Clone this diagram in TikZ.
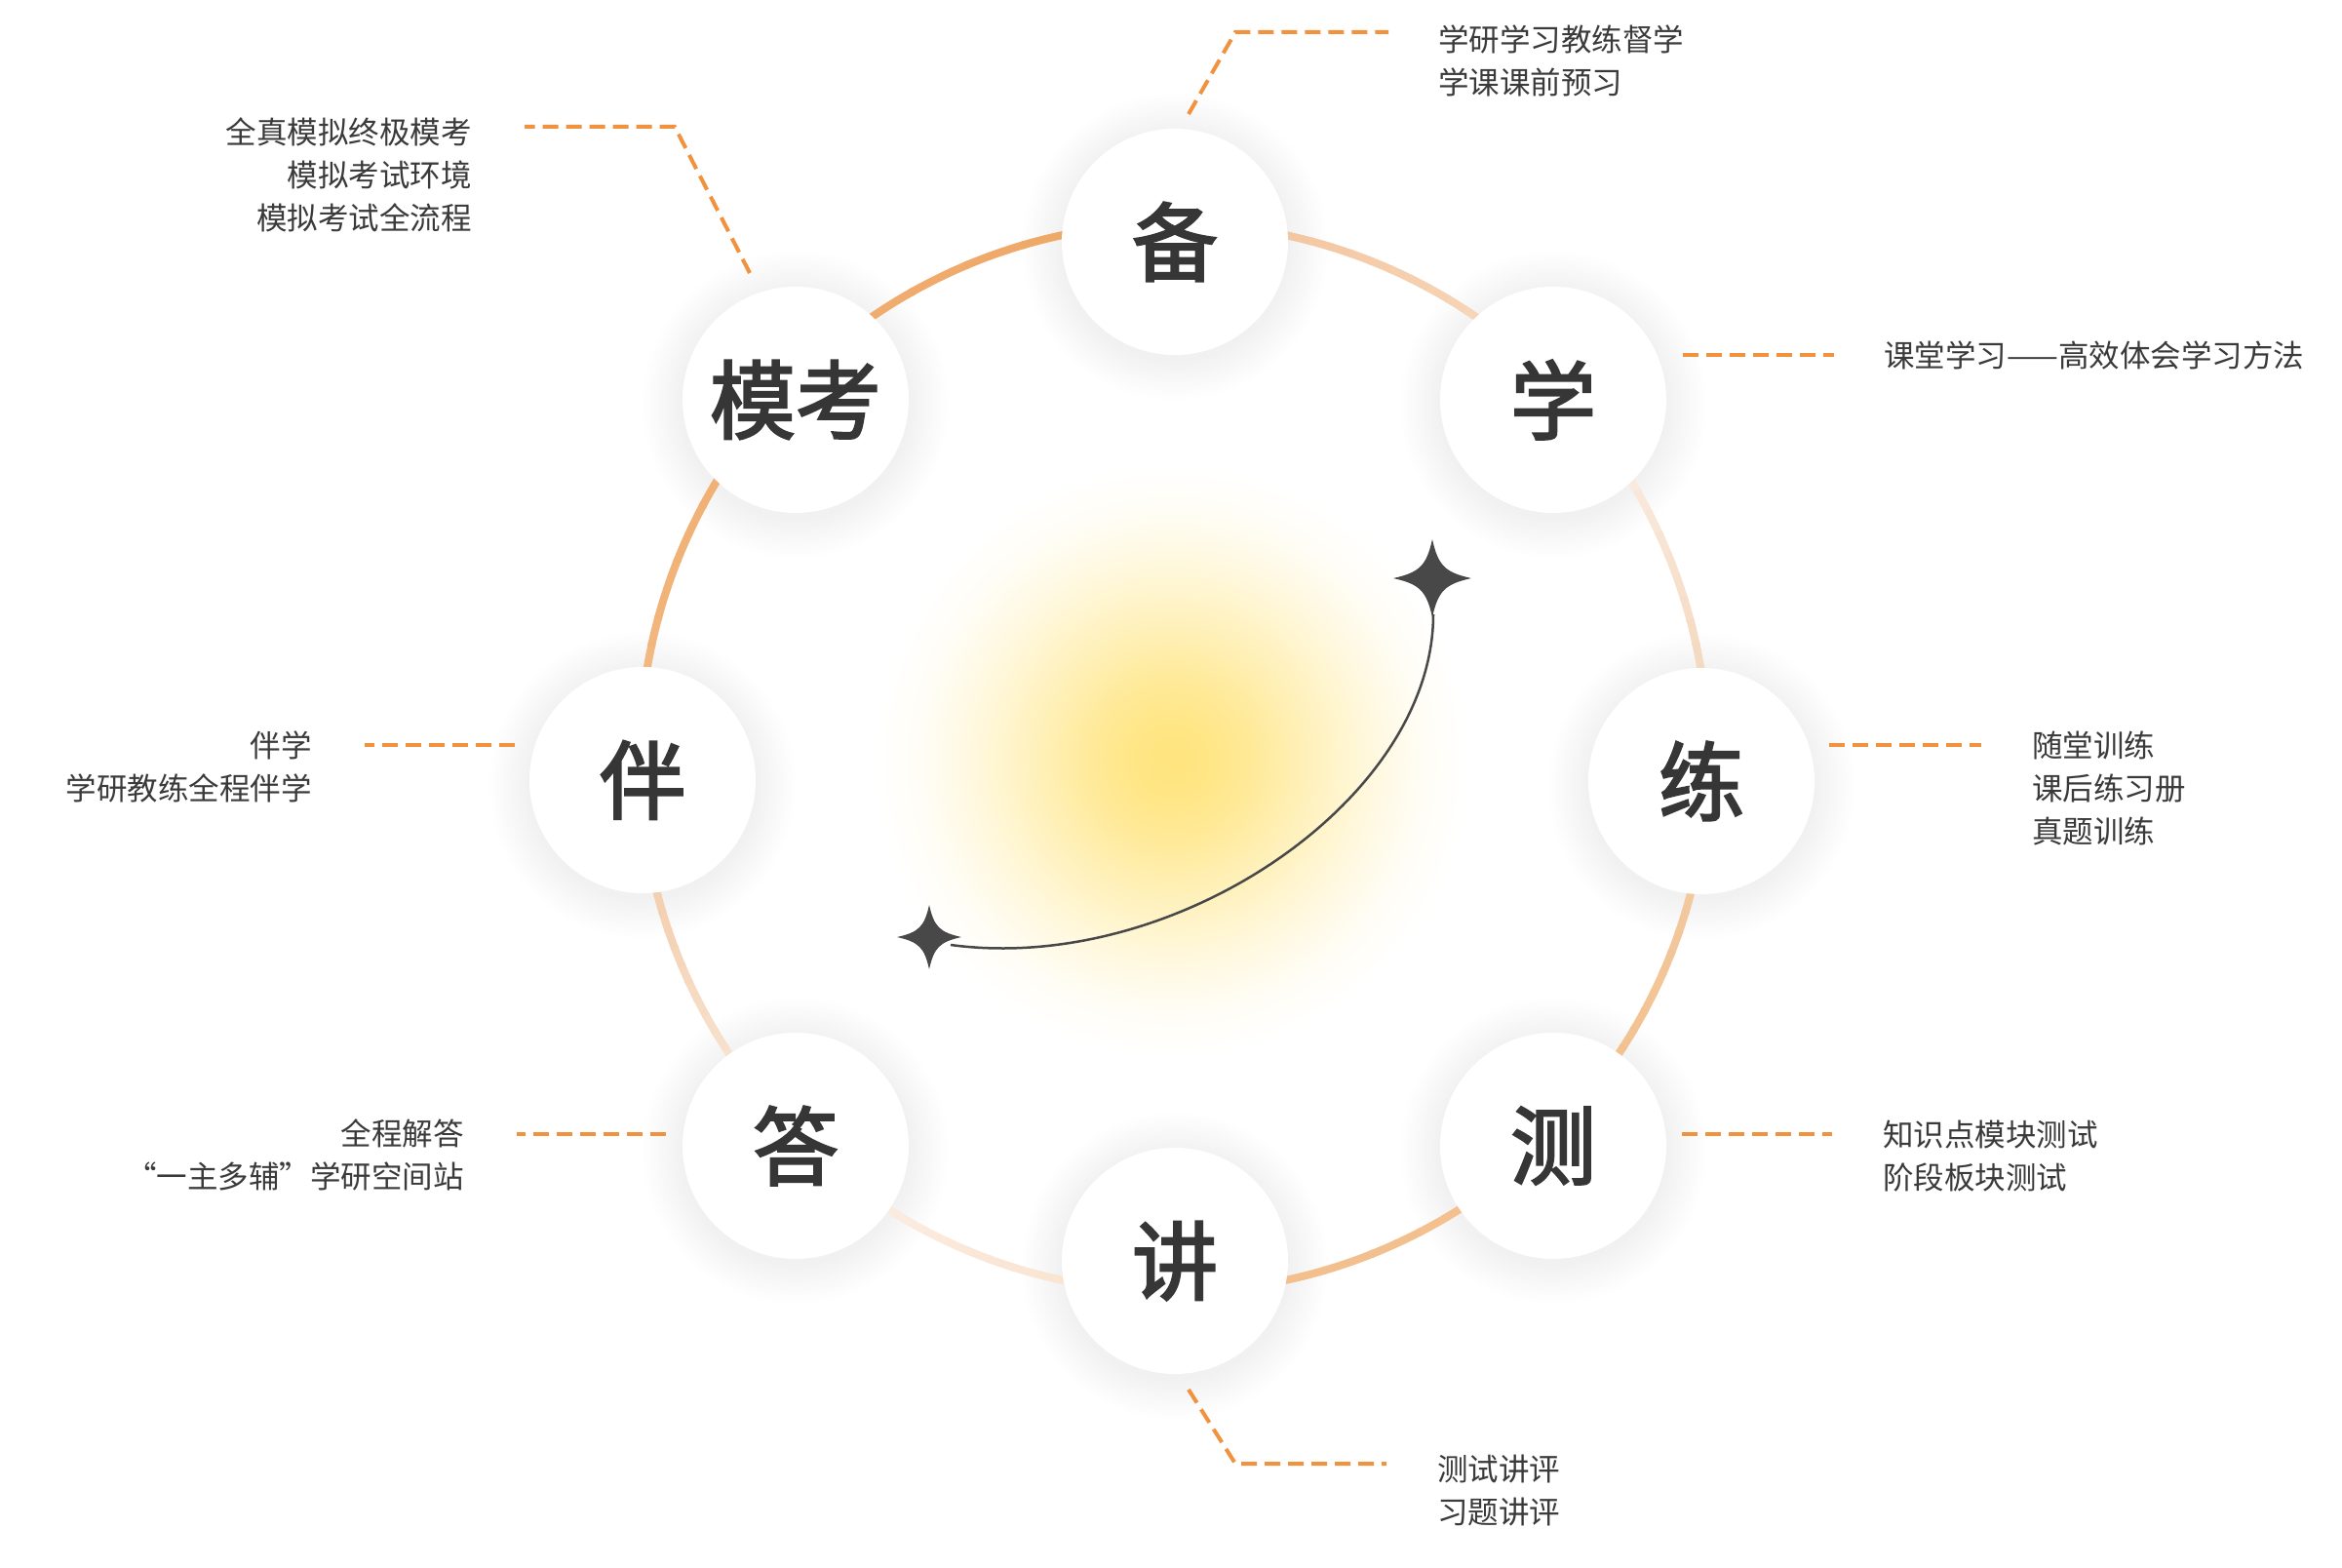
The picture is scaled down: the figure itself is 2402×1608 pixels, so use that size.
\documentclass[tikz,border=0pt]{standalone}
\usepackage{fontspec}
\setmainfont{Noto Sans CJK SC}
\newfontfamily\bigfam{Noto Sans CJK SC}[FakeBold=2.5]
\definecolor{txt}{HTML}{3A3A3A}
\definecolor{bigtxt}{HTML}{363636}
\definecolor{dashc}{HTML}{F0923E}
\definecolor{starc}{HTML}{484848}
\definecolor{glowc}{HTML}{FFE47E}
\definecolor{rA}{HTML}{F3CFAE}
\definecolor{rB}{HTML}{F2B47A}
\definecolor{rC}{HTML}{EEA767}
\definecolor{rD}{HTML}{F3C59E}
\definecolor{rE}{HTML}{F6D4B6}
\definecolor{rF}{HTML}{FAEDE3}
\definecolor{rG}{HTML}{F5D9C0}
\definecolor{rH}{HTML}{F2C9A0}
\definecolor{rI}{HTML}{F3C18F}
\definecolor{rJ}{HTML}{F2BF8D}
\definecolor{rK}{HTML}{FAE3CF}
\definecolor{rL}{HTML}{FBEDE2}
\definecolor{rM}{HTML}{F8E3D0}
\pgfdeclareradialshading{glowshade}{\pgfpoint{0bp}{0bp}}{%
  color(0bp)=(glowc); color(3bp)=(glowc!95!white); color(7bp)=(glowc!78!white);
  color(12bp)=(glowc!50!white); color(17bp)=(glowc!24!white); color(21bp)=(glowc!8!white);
  color(25bp)=(white); color(50bp)=(white)}
\tikzset{
  ringline/.style={line width=8pt, line cap=butt},
  bub/.style={circle, fill=white, minimum size=232pt, inner sep=0pt, text=bigtxt,
    font=\bigfam\fontsize{88}{88}\selectfont},
  lbl/.style={font=\fontsize{31.5}{44}\selectfont, text=txt, inner sep=0pt},
  leader/.style={draw=dashc, line width=4pt, dash pattern=on 16pt off 8pt},
  curvel/.style={draw=starc, line width=2.5pt},
  sparkle/.pic={\fill[starc] (0,-40) .. controls (6,-13) and (13,-6) .. (40,0)
     .. controls (13,6) and (6,13) .. (0,40) .. controls (-6,13) and (-13,6) .. (-40,0)
     .. controls (-13,-6) and (-6,-13) .. (0,-40) -- cycle;}
}
\newcommand\ringgrad[4]{%
  \foreach \k in {0,...,9}{%
    \pgfmathsetmacro\ua{-((#1)+((#2)-(#1))*\k/10)}%
    \pgfmathsetmacro\ub{-((#1)+((#2)-(#1))*(\k+1)/10)+0.35}%
    \pgfmathtruncatemacro\pp{100*(\k+0.5)/10}%
    \draw[ringline, draw=#4!\pp!#3] ([shift={(\ua:548)}]ctr) arc[start angle=\ua, end angle=\ub, radius=548];
  }}
\newcommand\softshadow[1]{%
  \foreach \r in {118,121,...,157}{\fill[black, opacity=0.0030] ([shift={(0,5)}]#1) circle (\r);}}
\begin{document}
\begin{tikzpicture}[x=1pt, y=-1pt]
\useasboundingbox (0,0) rectangle (2402,1608);
\fill[white] (0,0) rectangle (2402,1608);
\coordinate (ctr) at (1204,777);
% glow
\shade[shading=glowshade] (1202,780) circle (305);
% circle positions
\coordinate (pbei) at (1205,248);
\coordinate (pxue) at (1593,410);
\coordinate (plian) at (1745,801);
\coordinate (pce) at (1593,1175);
\coordinate (pjiang) at (1205,1293);
\coordinate (pda) at (816,1175);
\coordinate (pban) at (659,800);
\coordinate (pmk) at (816,410);
\foreach \c in {pbei,pxue,plian,pce,pjiang,pda,pban,pmk}{\softshadow{\c}}
% ring (math angles, clockwise)
\ringgrad{195}{165}{rA}{rB}
\ringgrad{165}{100}{rB}{rC}
\ringgrad{100}{90}{rC}{rC}
\ringgrad{90}{80}{rD}{rD}
\ringgrad{80}{57}{rD}{rE}
\ringgrad{57}{35}{rE}{rF}
\ringgrad{35}{10}{rF}{rG}
\ringgrad{10}{-12}{rG}{rH}
\ringgrad{-12}{-35}{rH}{rI}
\ringgrad{-35}{-90}{rI}{rJ}
\ringgrad{-90}{-100}{rK}{rK}
\ringgrad{-100}{-125}{rK}{rL}
\ringgrad{-125}{-145}{rL}{rM}
\ringgrad{-145}{-165}{rM}{rA}
% curve and stars
\coordinate (s1) at (1469,593);
\coordinate (s2) at (953,961);
\coordinate (s1b) at (1470,630);
\coordinate (s2r) at (975,969);
\draw[curvel] (s1b) .. controls (1470,820) and (1205,1000) .. (s2r);
\pic at (s1) {sparkle};
\pic[scale=0.825] at (s2) {sparkle};
% bubbles
\node[bub] (bei) at (pbei) {\raisebox{-3pt}{备}};
\node[bub] (xue) at (pxue) {\raisebox{-3pt}{学}};
\node[bub] (lian) at (plian) {\raisebox{-3pt}{练}};
\node[bub] (ce) at (pce) {\raisebox{-3pt}{测}};
\node[bub] (jiang) at (pjiang) {\raisebox{-3pt}{讲}};
\node[bub] (da) at (pda) {\raisebox{-3pt}{答}};
\node[bub] (ban) at (pban) {\raisebox{-3pt}{伴}};
\node[bub] (mk) at (pmk) {\raisebox{-3pt}{模考}};
% leader end points
\coordinate (lbei0) at (1219,117); \coordinate (lbei1) at (1267,33); \coordinate (lbei2) at (1424,33);
\coordinate (lxue0) at (1726,364); \coordinate (lxue1) at (1881,364);
\coordinate (llian0) at (1876,764); \coordinate (llian1) at (2032,764);
\coordinate (lce0) at (1725,1163); \coordinate (lce1) at (1879,1163);
\coordinate (ljiang0) at (1219,1425); \coordinate (ljiang1) at (1267,1501); \coordinate (ljiang2) at (1422,1501);
\coordinate (lda0) at (683,1163); \coordinate (lda1) at (530,1163);
\coordinate (lban0) at (528,764); \coordinate (lban1) at (374,764);
\coordinate (lmk0) at (769,280); \coordinate (lmk1) at (692,130); \coordinate (lmk2) at (538,130);
\draw[leader] (lbei0) -- (lbei1) -- (lbei2);
\draw[leader] (lxue0) -- (lxue1);
\draw[leader] (llian0) -- (llian1);
\draw[leader] (lce0) -- (lce1);
\draw[leader] (ljiang0) -- (ljiang1) -- (ljiang2);
\draw[leader] (lda0) -- (lda1);
\draw[leader] (lban0) -- (lban1);
\draw[leader] (lmk0) -- (lmk1) -- (lmk2);
% labels (anchor = baseline of the last line)
\node[lbl, anchor=base west, align=left] (tbei) at (1475,97) {学研学习教练督学\\学课课前预习};
\node[lbl, anchor=base west, align=left] (txue) at (1932,376) {课堂学习——高效体会学习方法};
\node[lbl, anchor=base west, align=left] (tlian) at (2084,864) {随堂训练\\课后练习册\\真题训练};
\node[lbl, anchor=base west, align=left] (tce) at (1931,1219) {知识点模块测试\\阶段板块测试};
\node[lbl, anchor=base west, align=left] (tjiang) at (1474,1562) {测试讲评\\习题讲评};
\node[lbl, anchor=base east, align=right] (tda) at (476,1218) {全程解答\\“一主多辅”学研空间站};
\node[lbl, anchor=base east, align=right] (tban) at (320,820) {伴学\\学研教练全程伴学};
\node[lbl, anchor=base east, align=right] (tmk) at (484,236) {全真模拟终极模考\\模拟考试环境\\模拟考试全流程};
\end{tikzpicture}
\end{document}
